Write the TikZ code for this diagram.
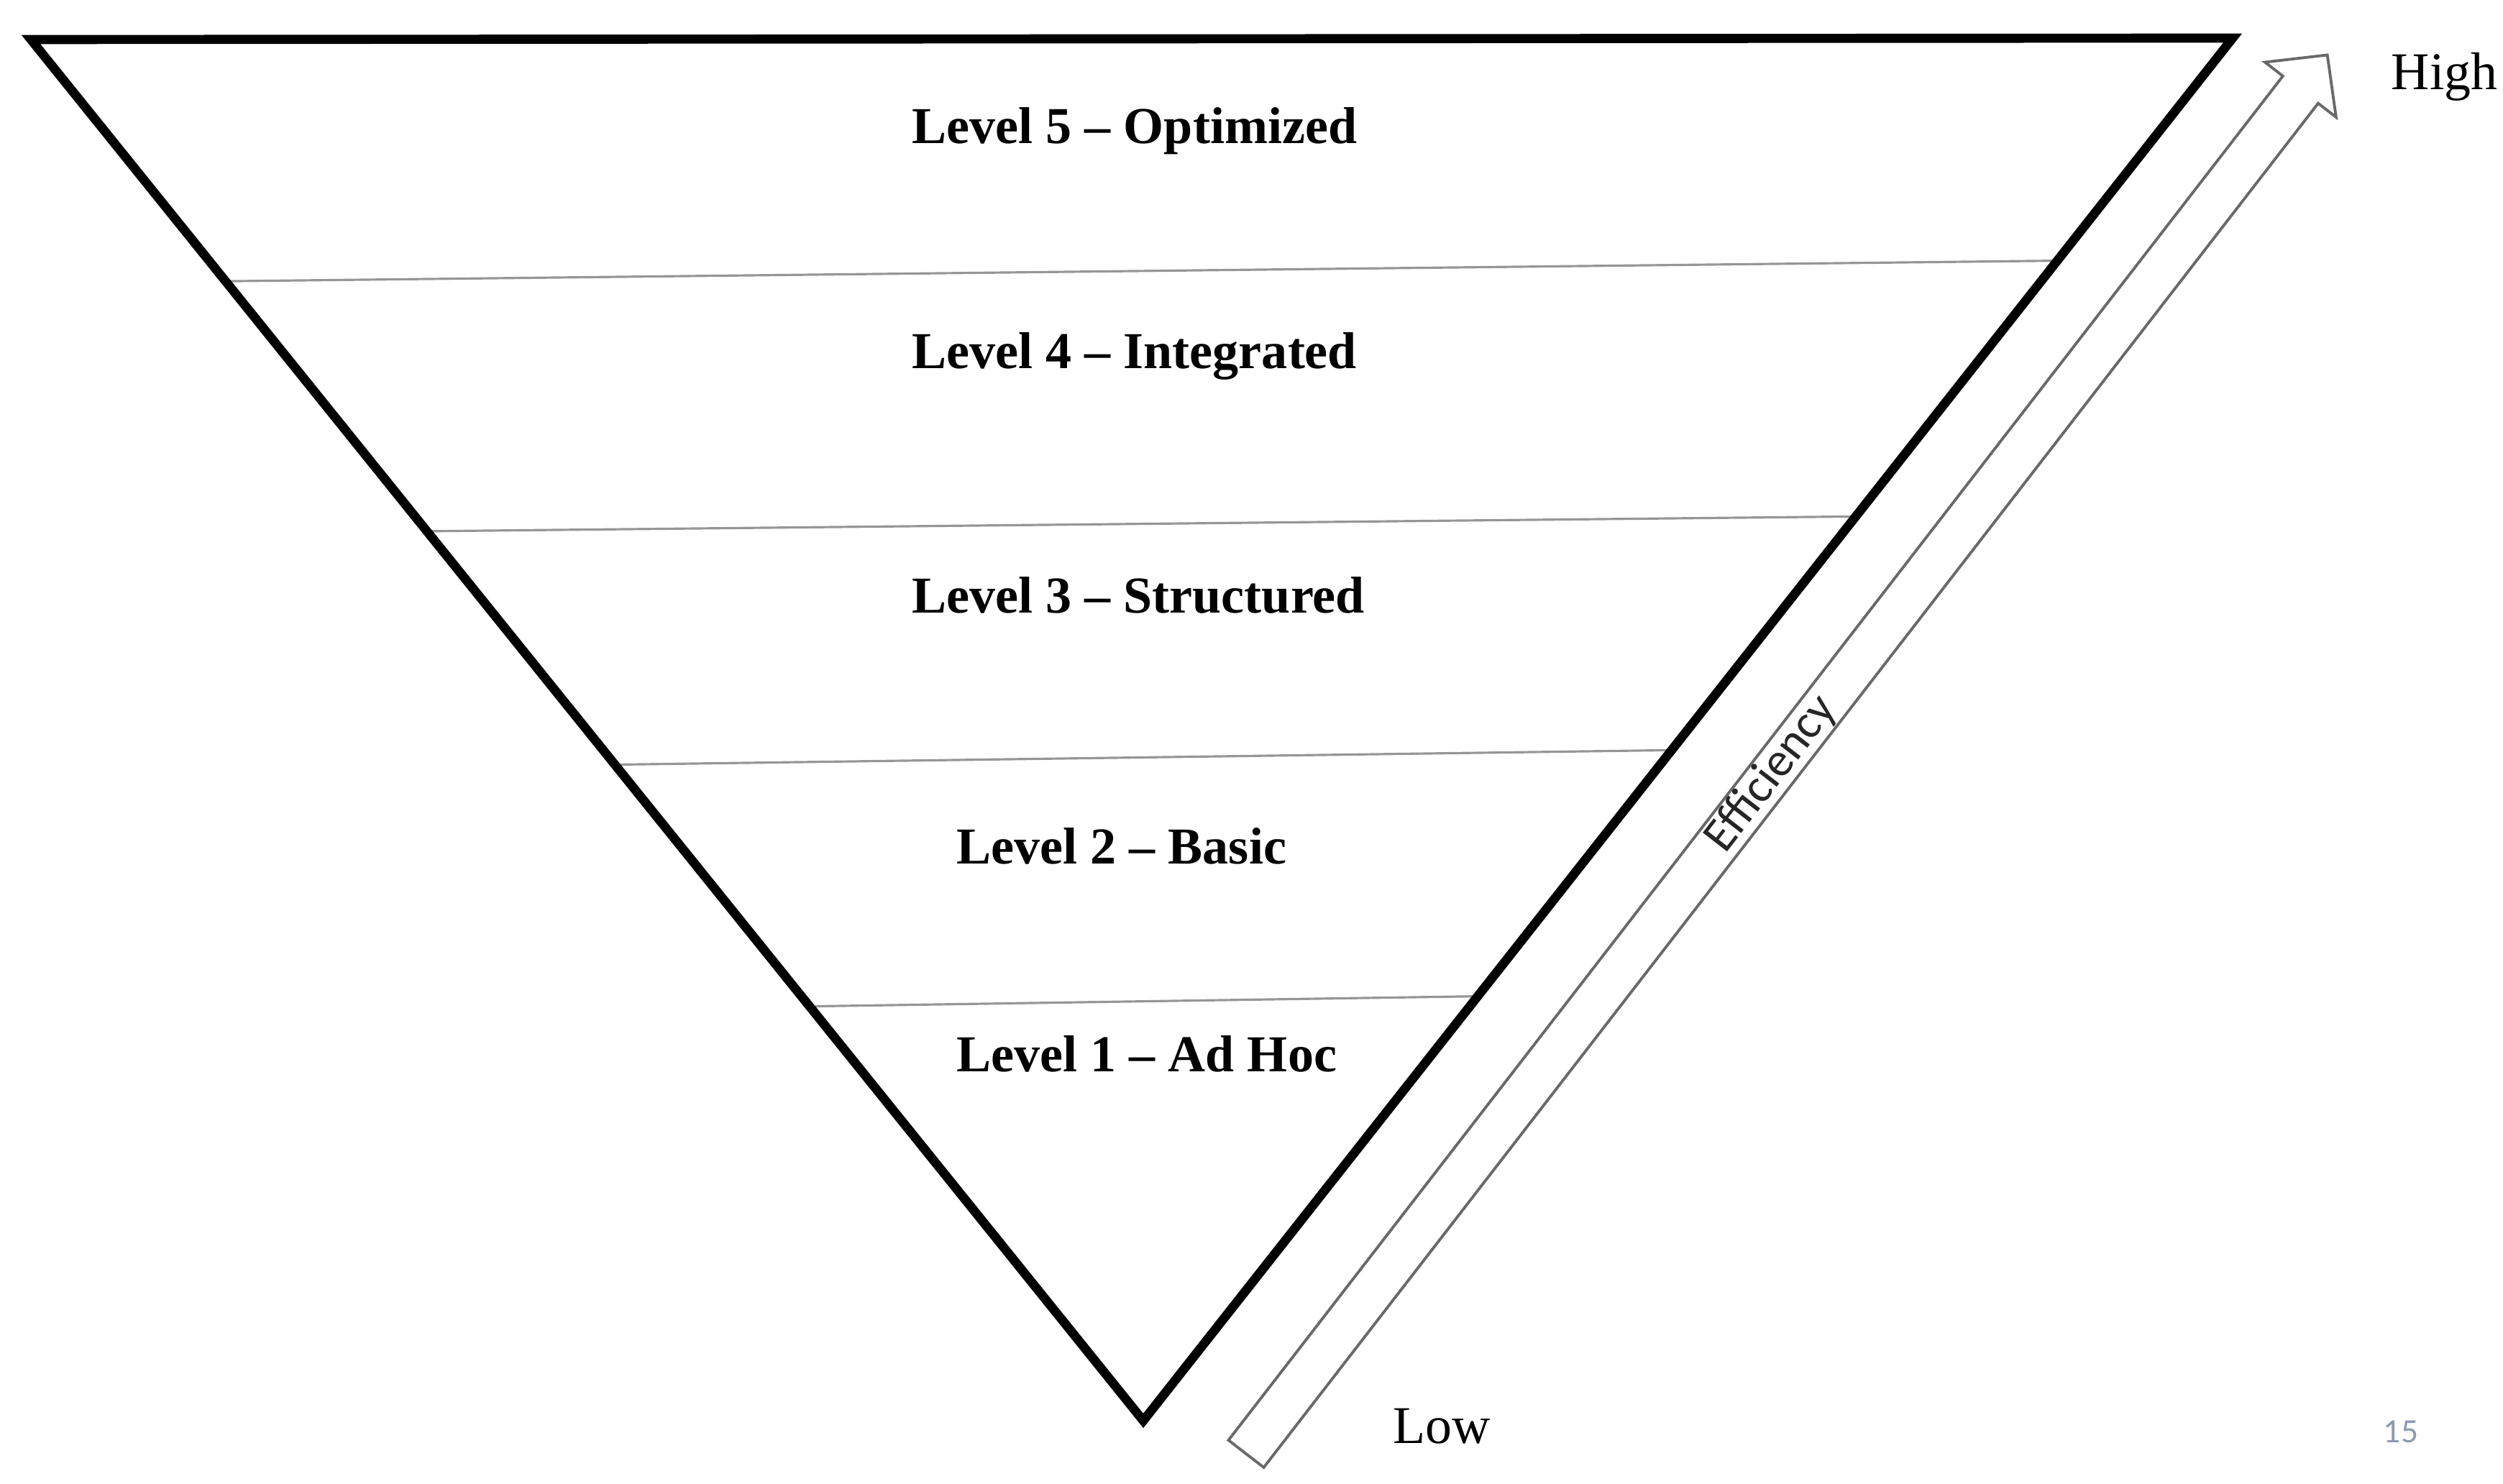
\documentclass[tikz,border=0pt]{standalone}
\usepackage{fontspec}
\setmainfont{Liberation Serif}
\newfontfamily\effont{Carlito}
\usetikzlibrary{calc}
\definecolor{rulegray}{RGB}{150, 150, 150}
\definecolor{arrowgray}{RGB}{105, 105, 105}
\definecolor{pagegray}{RGB}{140, 155, 175}
\def\arrowlen{24.59}
\def\shafthalf{0.31}
\def\headhalf{0.625}
\def\headlen{0.61}

\begin{document}
\begin{tikzpicture}[line cap=round, line join=round]

                 \useasboundingbox (0, 0) rectangle (34.81, 20.63);

                 \coordinate (tl) at (0.43, 20.08);
                 \coordinate (tr) at (31.05, 20.10);
                 \coordinate (apex) at (15.90, 0.87);

                 \foreach \a/\b in {0.175/0.161, 0.356/0.346, 0.525/0.515, 0.700/0.693}
                 \draw[rulegray, line width=0.9pt] ($(tl)!\a!(apex)$) -- ($(tr)!\b!(apex)$);

                 \draw[black, line width=3.6pt, line join=miter] (tl) -- (tr) -- (apex) -- cycle;

                 \begin{scope}[shift={(17.33, 0.41)}, rotate=52.3]
                 \draw[arrowgray, line width=1.1pt, line join=miter]
                 (0, -\shafthalf) -- (\arrowlen-\headlen, -\shafthalf) --
                 (\arrowlen-\headlen, -\headhalf) -- (\arrowlen, 0) --
                 (\arrowlen-\headlen, \headhalf) -- (\arrowlen-\headlen, \shafthalf) --
                 (0, \shafthalf) -- cycle;
                 \node[font=\effont\fontsize{19}{21}\selectfont, text=black!85, rotate=52.3, inner sep=0pt] (eff)
                 at (0.486*\arrowlen, 0) {Efficiency};
                 \end{scope}

                 \node[anchor=base west, inner sep=0pt, font=\bfseries\fontsize{20.5}{23}\selectfont] (lvl5) at (12.68, 18.63) {Level 5 \textendash{} Optimized};
                 \node[anchor=base west, inner sep=0pt, font=\bfseries\fontsize{20.5}{23}\selectfont] (lvl4) at (12.68, 15.50) {Level 4 \textendash{} Integrated};
                 \node[anchor=base west, inner sep=0pt, font=\bfseries\fontsize{20.5}{23}\selectfont] (lvl3) at (12.68, 12.10) {Level 3 \textendash{} Structured};
                 \node[anchor=base west, inner sep=0pt, font=\bfseries\fontsize{20.5}{23}\selectfont] (lvl2) at (13.30, 8.62) {Level 2 \textendash{} Basic};
                 \node[anchor=base west, inner sep=0pt, font=\bfseries\fontsize{20.5}{23}\selectfont] (lvl1) at (13.30, 5.73) {Level 1 \textendash{} Ad Hoc};

                 \node[anchor=base west, inner sep=0pt, font=\fontsize{21}{24}\selectfont] (high) at (33.25, 19.38) {High};
                 \node[anchor=base west, inner sep=0pt, font=\fontsize{21}{24}\selectfont] (low) at (19.37, 0.56) {Low};
                 \node[font=\effont\fontsize{13.5}{15}\selectfont, text=pagegray] (page) at (33.39, 0.72) {15};

             \end{tikzpicture}
\end{document}
